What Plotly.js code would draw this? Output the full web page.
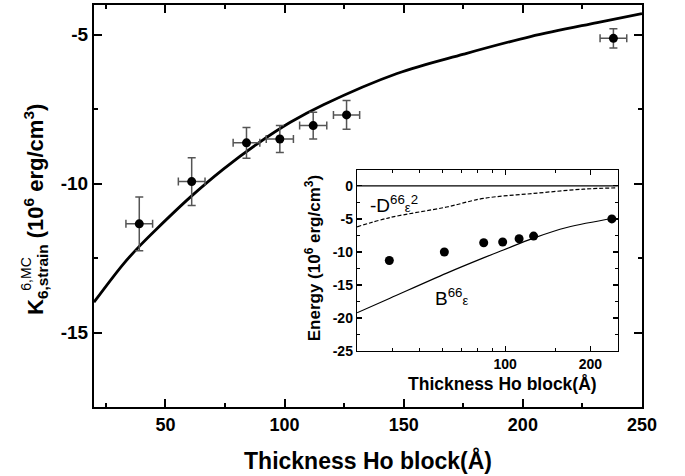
<!DOCTYPE html>
<html>
<head>
<meta charset="utf-8">
<script src="https://cdn.plot.ly/plotly-3.0.1.min.js"></script>
<style>html,body{margin:0;padding:0;background:#fff;}#chart{width:685px;height:476px;}</style>
</head>
<body>
<div id="chart"></div>
<script>
// Main panel data
const thickness = [39, 61, 84, 98, 112, 126, 238];
const kStrain = [-11.35, -9.93, -8.63, -8.5, -8.05, -7.69, -5.12];
const kErrY = [0.9, 0.8, 0.52, 0.45, 0.45, 0.48, 0.32];
const thickErrX = [5.6, 5.6, 5.6, 5.7, 5.7, 5.5, 5.6];
const fitX = [20, 32.3, 39.3, 46.3, 60.3, 74.3, 88.4, 102.4, 116.3, 147.2, 175.2, 203.2, 231.2, 250];
const fitY = [-13.98, -12.7, -12.08, -11.52, -10.46, -9.51, -8.67, -7.94, -7.35, -6.3, -5.65, -5.06, -4.59, -4.29];
// Inset data
const insetDotsY = [-11.3, -10.0, -8.6, -8.5, -8.0, -7.6, -5.0];
const bEpsX = [30, 39.2, 62.2, 83.8, 98.6, 126, 165, 242];
const bEpsY = [-19.2, -17.0, -13.2, -10.9, -9.7, -7.9, -6.3, -4.9];
const dEpsX = [30, 39.2, 62.2, 83.8, 126, 189, 249];
const dEpsY = [-6.2, -4.8, -3.2, -1.9, -1.15, -0.5, -0.3];
const zeroX = [30, 250];
const zeroY = [0, 0];
// Tick labels
const mainXTicks = [50, 100, 150, 200, 250];
const mainYTicks = [-5, -10, -15];
const mainYTickText = ['-5', '-10', '-15'];
const insetXTicks = [100, 200];
const insetYTicks = [0, -5, -10, -15, -20, -25];
const insetYTickText = ['0', '-5', '-10', '-15', '-20', '-25'];

const FONT = 'Liberation Sans, Arial, sans-serif';
const errStyle = {type: 'data', color: '#555', thickness: 1.5, width: 4};

const traces = [
  {x: fitX, y: fitY, mode: 'lines', line: {color: '#000', width: 2.8, shape: 'spline'}, xaxis: 'x', yaxis: 'y', hoverinfo: 'skip'},
  {x: thickness, y: kStrain, mode: 'markers', marker: {color: '#000', size: 9},
   error_y: Object.assign({array: kErrY}, errStyle),
   error_x: Object.assign({array: thickErrX}, errStyle), xaxis: 'x', yaxis: 'y'},
  {x: zeroX, y: zeroY, mode: 'lines', line: {color: '#000', width: 1.3}, xaxis: 'x2', yaxis: 'y2'},
  {x: dEpsX, y: dEpsY, mode: 'lines', line: {color: '#000', width: 1.2, dash: '4px,2px', shape: 'spline'}, xaxis: 'x2', yaxis: 'y2'},
  {x: bEpsX, y: bEpsY, mode: 'lines', line: {color: '#000', width: 1.2, shape: 'spline'}, xaxis: 'x2', yaxis: 'y2'},
  {x: thickness, y: insetDotsY, mode: 'markers', marker: {color: '#000', size: 9}, xaxis: 'x2', yaxis: 'y2'}
];

const axBase = {showline: true, linewidth: 2, linecolor: '#000', mirror: 'ticks', ticks: 'inside', tickcolor: '#000',
  showgrid: false, zeroline: false};

const layout = {
  width: 685, height: 476,
  margin: {l: 94, r: 43, t: 5, b: 69},
  paper_bgcolor: '#fff', plot_bgcolor: '#fff',
  showlegend: false,
  font: {family: FONT, color: '#000'},
  xaxis: Object.assign({}, axBase, {
    domain: [0, 1], range: [20, 250], tickmode: 'array', tickvals: mainXTicks,
    ticklen: 8, tickwidth: 2,
    minor: {tickmode: 'array', tickvals: [25, 75, 125, 175, 225], ticklen: 4, tickwidth: 2, ticks: 'inside', tickcolor: '#000'},
    tickfont: {family: FONT, size: 18, weight: 'bold'},
    title: {text: 'Thickness Ho block(Å)', font: {family: FONT, size: 23, weight: 'bold'}, standoff: 19}
  }),
  yaxis: Object.assign({}, axBase, {
    domain: [0, 1], range: [-17.5, -4], tickmode: 'array', tickvals: mainYTicks, ticktext: mainYTickText,
    ticklen: 8, tickwidth: 2,
    minor: {tickmode: 'array', tickvals: [-7.5, -12.5], ticklen: 4, tickwidth: 2, ticks: 'inside', tickcolor: '#000'},
    tickfont: {family: FONT, size: 19, weight: 'bold'}
  }),
  xaxis2: Object.assign({}, axBase, {
    type: 'log', domain: [0.48, 0.956], anchor: 'y2', range: [Math.log10(30), Math.log10(250)],
    tickmode: 'array', tickvals: insetXTicks, ticktext: ['100', '200'],
    linewidth: 1.3, ticklen: 5, tickwidth: 1.2,
    minor: {tickmode: 'array', tickvals: [40, 50, 60, 70, 80, 90, 150], ticklen: 3, tickwidth: 1, ticks: 'inside', tickcolor: '#000'},
    tickfont: {family: FONT, size: 14, weight: 'bold'}
  }),
  yaxis2: Object.assign({}, axBase, {
    domain: [0.139, 0.5896], anchor: 'x2', range: [-25, 2.4],
    tickmode: 'array', tickvals: insetYTicks, ticktext: insetYTickText,
    linewidth: 1.3, ticklen: 5, tickwidth: 1.2,
    minor: {tickmode: 'array', tickvals: [-2.5, -7.5, -12.5, -17.5, -22.5], ticklen: 3, tickwidth: 1, ticks: 'inside', tickcolor: '#000'},
    tickfont: {family: FONT, size: 14, weight: 'bold'}
  }),
  annotations: [
    {xref: 'paper', yref: 'paper', x: -0.1077, y: 0.4925, xanchor: 'center', yanchor: 'middle', textangle: -90, showarrow: false,
     text: 'K<sub>6,strain</sub> (10<sup>6</sup> erg/cm<sup>3</sup>)', font: {family: FONT, size: 22, weight: 'bold'}},
    {xref: 'paper', yref: 'paper', x: -0.1235, y: 0.33, xanchor: 'center', yanchor: 'middle', textangle: -90, showarrow: false,
     text: '6,MC', font: {family: FONT, size: 14}},
    {xref: 'paper', yref: 'paper', x: 0.3996, y: 0.37, xanchor: 'center', yanchor: 'middle', textangle: -90, showarrow: false,
     text: 'Energy (10<sup>6</sup> erg/cm<sup>3</sup>)', font: {family: FONT, size: 17, weight: 'bold'}},
    {xref: 'paper', yref: 'paper', x: 0.745, y: 0.056, xanchor: 'center', yanchor: 'middle', showarrow: false,
     text: 'Thickness Ho block(Å)', font: {family: FONT, size: 17.5, weight: 'bold'}},
    {xref: 'x2', yref: 'y2', x: 1.515, y: -2.75, xanchor: 'left', yanchor: 'middle', showarrow: false,
     text: '-D<sup>66</sup><span style="font-size:13px">ε</span><sup>2</sup>', font: {family: FONT, size: 19}},
    {xref: 'x2', yref: 'y2', x: 1.745, y: -16.8, xanchor: 'left', yanchor: 'middle', showarrow: false,
     text: 'B<sup>66</sup><span style="font-size:13px">ε</span>', font: {family: FONT, size: 19}}
  ]
};

Plotly.newPlot('chart', traces, layout, {staticPlot: true, displayModeBar: false});
</script>
</body>
</html>
